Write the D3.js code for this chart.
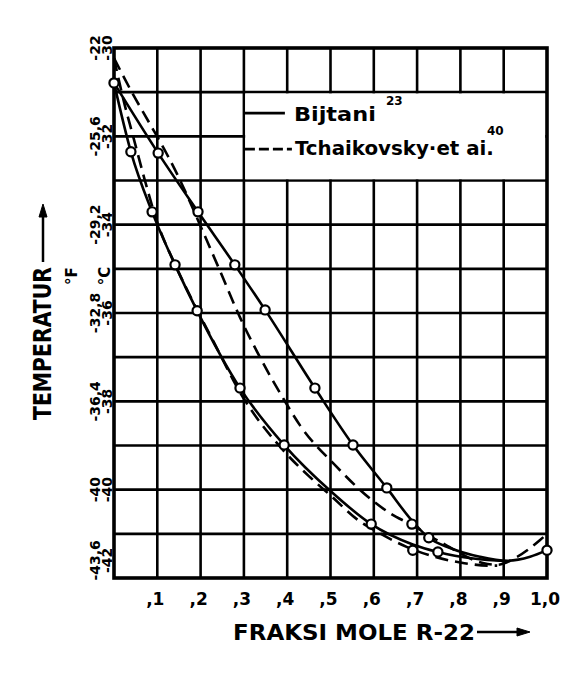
<!DOCTYPE html>
<html>
<head>
<meta charset="utf-8">
<script src="https://cdn.jsdelivr.net/npm/d3@7"></script>
<style>
  body { margin: 0; background: #fff; }
  svg { display: block; }
  text { font-family: "DejaVu Sans", sans-serif; font-weight: bold; fill: #000; }
</style>
</head>
<body>
<svg id="chart" width="585" height="675"></svg>
<script>
// axis ticks
var xTicks = [0.1, 0.2, 0.3, 0.4, 0.5, 0.6, 0.7, 0.8, 0.9, 1.0];
var xTickLabels = [",1", ",2", ",3", ",4", ",5", ",6", ",7", ",8", ",9", "1,0"];
var yTicksC = [-30, -32, -34, -36, -38, -40, -42];
var yLabelsC = ["-30", "-32", "-34", "-36", "-38", "-40", "-42"];
var yLabelsF = ["-22", "-25,6", "-29,2", "-32,8", "-36,4", "-40", "-43,6"];

// Bijtani, measured points [mole fraction R-22, temp C]
var bijtaniDewPts = [[0, -30.79], [0.102, -32.38], [0.194, -33.71], [0.279, -34.91], [0.349, -35.93],
  [0.464, -37.70], [0.552, -38.99], [0.630, -39.96], [0.688, -40.78], [0.727, -41.09], [1.0, -41.37]];
var bijtaniBubblePts = [[0.039, -32.35], [0.088, -33.71], [0.141, -34.91], [0.192, -35.95], [0.291, -37.70],
  [0.393, -38.99], [0.594, -40.78], [0.690, -41.37], [0.748, -41.41]];

// Bijtani, drawn curves
var bijtaniDewLine = [[0, -30.79], [0.102, -32.38], [0.194, -33.71], [0.279, -34.91], [0.349, -35.93],
  [0.464, -37.70], [0.552, -38.99], [0.630, -39.96], [0.688, -40.70], [0.727, -41.09], [0.776, -41.32],
  [0.845, -41.52], [0.908, -41.61], [0.961, -41.52], [1.0, -41.37]];
var bijtaniBubbleLine = [[0, -30.79], [0.039, -32.35], [0.088, -33.71], [0.141, -34.91], [0.192, -35.95],
  [0.291, -37.70], [0.393, -38.99], [0.50, -40.03], [0.594, -40.78], [0.690, -41.24], [0.748, -41.41],
  [0.830, -41.56], [0.908, -41.62]];

// Tchaikovsky et al., drawn curves
var tchaikDewLine = [[0, -30.23], [0.044, -31.05], [0.083, -31.72], [0.122, -32.40], [0.148, -32.90],
  [0.206, -34.17], [0.245, -35.05], [0.291, -36.10], [0.337, -37.00], [0.390, -37.92], [0.430, -38.55],
  [0.515, -39.49], [0.561, -39.94], [0.637, -40.53], [0.688, -40.80], [0.760, -41.22], [0.852, -41.66],
  [0.885, -41.70], [0.931, -41.52], [0.984, -41.14], [1.0, -41.00]];
var tchaikBubbleLine = [[0, -30.23], [0.025, -31.30], [0.042, -31.92], [0.070, -32.95], [0.100, -33.95],
  [0.141, -34.90], [0.192, -35.93], [0.230, -36.65], [0.290, -37.78], [0.390, -39.10], [0.453, -39.72],
  [0.500, -40.13], [0.568, -40.72], [0.607, -40.95], [0.677, -41.30], [0.740, -41.52], [0.800, -41.65],
  [0.868, -41.72], [0.885, -41.72]];

var svg = d3.select("#chart");
var margin = { top: 48, right: 38, bottom: 97, left: 114 };
var w = 585 - margin.left - margin.right;
var h = 675 - margin.top - margin.bottom;

var x = d3.scaleLinear().domain([0, 1]).range([margin.left, margin.left + w]);
var y = d3.scaleLinear().domain([-30, -42]).range([margin.top, margin.top + h]);

// GRID
var grid = svg.append("g").attr("stroke", "#000").attr("stroke-width", 2.6);

grid.selectAll("line.v")
    .data(d3.range(1, 10).map(function (i) { return i / 10; }))
    .enter().append("line")
    .attr("x1", function (d) { return x(d); }).attr("x2", function (d) { return x(d); })
    .attr("y1", y(-30)).attr("y2", y(-42));

grid.selectAll("line.h")
    .data(d3.range(-31, -42, -1))
    .enter().append("line")
    .attr("x1", x(0)).attr("x2", x(1))
    .attr("y1", function (d) { return y(d); }).attr("y2", function (d) { return y(d); });

// legend box clears the grid
svg.append("rect")
    .attr("x", x(0.3) + 1.3)
    .attr("y", y(-31) + 1.3)
    .attr("width", x(1) - x(0.3) - 3)
    .attr("height", y(-33) - y(-31) - 2.6)
    .attr("fill", "#fff");

// frame
svg.append("rect")
    .attr("x", x(0)).attr("y", y(-30))
    .attr("width", w).attr("height", h)
    .attr("fill", "none").attr("stroke", "#000").attr("stroke-width", 3.6);

// CURVES
var line = d3.line()
    .x(function (d) { return x(d[0]); })
    .y(function (d) { return y(d[1]); })
    .curve(d3.curveMonotoneX);

var curves = svg.append("g").attr("fill", "none").attr("stroke", "#000").attr("stroke-width", 2.6);

[tchaikDewLine, tchaikBubbleLine].forEach(function (data) {
  curves.append("path").datum(data).attr("d", line).attr("stroke-dasharray", "13,7");
});
[bijtaniDewLine, bijtaniBubbleLine].forEach(function (data) {
  curves.append("path").datum(data).attr("d", line);
});

svg.append("g").selectAll("circle")
    .data(bijtaniDewPts.concat(bijtaniBubblePts))
    .enter().append("circle")
    .attr("cx", function (d) { return x(d[0]); })
    .attr("cy", function (d) { return y(d[1]); })
    .attr("r", 4.6)
    .attr("fill", "#fff").attr("stroke", "#000").attr("stroke-width", 2.2);

// X LABELS
svg.append("g").selectAll("text")
    .data(xTicks)
    .enter().append("text")
    .attr("x", function (d) { return x(d) - 2; })
    .attr("y", 605)
    .attr("text-anchor", "middle")
    .attr("font-size", 17)
    .text(function (d, i) { return xTickLabels[i]; });

svg.append("text")
    .attr("x", 233).attr("y", 640)
    .attr("font-size", 21)
    .attr("textLength", 242).attr("lengthAdjust", "spacingAndGlyphs")
    .text("FRAKSI MOLE R-22");

var arrow = svg.append("g").attr("stroke", "#000").attr("fill", "#000");
arrow.append("line").attr("x1", 477).attr("y1", 632).attr("x2", 520).attr("y2", 632).attr("stroke-width", 2.5);
arrow.append("path").attr("d", "M517,628 L530,632 L517,636 Z").attr("stroke-width", 1);

// Y LABELS
var yLab = svg.append("g").attr("font-size", 14).attr("text-anchor", "middle");
yTicksC.forEach(function (t, i) {
  var cy = Math.min(y(t), y(-41.6));
  yLab.append("text")
      .attr("transform", "translate(100," + cy + ") rotate(-90)")
      .text(yLabelsF[i]);
  yLab.append("text")
      .attr("transform", "translate(112," + cy + ") rotate(-90)")
      .text(yLabelsC[i]);
});

svg.append("text")
    .attr("transform", "translate(77,276) rotate(-90)")
    .attr("text-anchor", "middle").attr("font-size", 15)
    .text("°F");
svg.append("text")
    .attr("transform", "translate(110,276) rotate(-90)")
    .attr("text-anchor", "middle").attr("font-size", 15)
    .text("°C");

svg.append("text")
    .attr("transform", "translate(51,420) rotate(-90)")
    .attr("font-size", 24)
    .attr("textLength", 153).attr("lengthAdjust", "spacingAndGlyphs")
    .text("TEMPERATUR");

var yArrow = svg.append("g").attr("stroke", "#000").attr("fill", "#000");
yArrow.append("line").attr("x1", 43).attr("y1", 262).attr("x2", 43).attr("y2", 214).attr("stroke-width", 2.5);
yArrow.append("path").attr("d", "M39,217 L43,204 L47,217 Z").attr("stroke-width", 1);

// LEGEND
var lx = x(0.3), ly = y(-31);
var leg = svg.append("g");

leg.append("line")
    .attr("x1", lx + 1).attr("x2", lx + 41)
    .attr("y1", ly + 21).attr("y2", ly + 21)
    .attr("stroke", "#000").attr("stroke-width", 2.6);
leg.append("text")
    .attr("x", lx + 50).attr("y", ly + 29)
    .attr("font-size", 20)
    .attr("textLength", 82).attr("lengthAdjust", "spacingAndGlyphs")
    .text("Bijtani");
leg.append("text")
    .attr("x", lx + 142).attr("y", ly + 13)
    .attr("font-size", 12)
    .text("23");

leg.append("line")
    .attr("x1", lx + 1).attr("x2", lx + 48)
    .attr("y1", ly + 57).attr("y2", ly + 57)
    .attr("stroke", "#000").attr("stroke-width", 2.6)
    .attr("stroke-dasharray", "10,4");
leg.append("text")
    .attr("x", lx + 51).attr("y", ly + 63)
    .attr("font-size", 20)
    .attr("textLength", 199).attr("lengthAdjust", "spacingAndGlyphs")
    .text("Tchaikovsky·et ai.");
leg.append("text")
    .attr("x", lx + 243).attr("y", ly + 43)
    .attr("font-size", 12)
    .text("40");
</script>
</body>
</html>
